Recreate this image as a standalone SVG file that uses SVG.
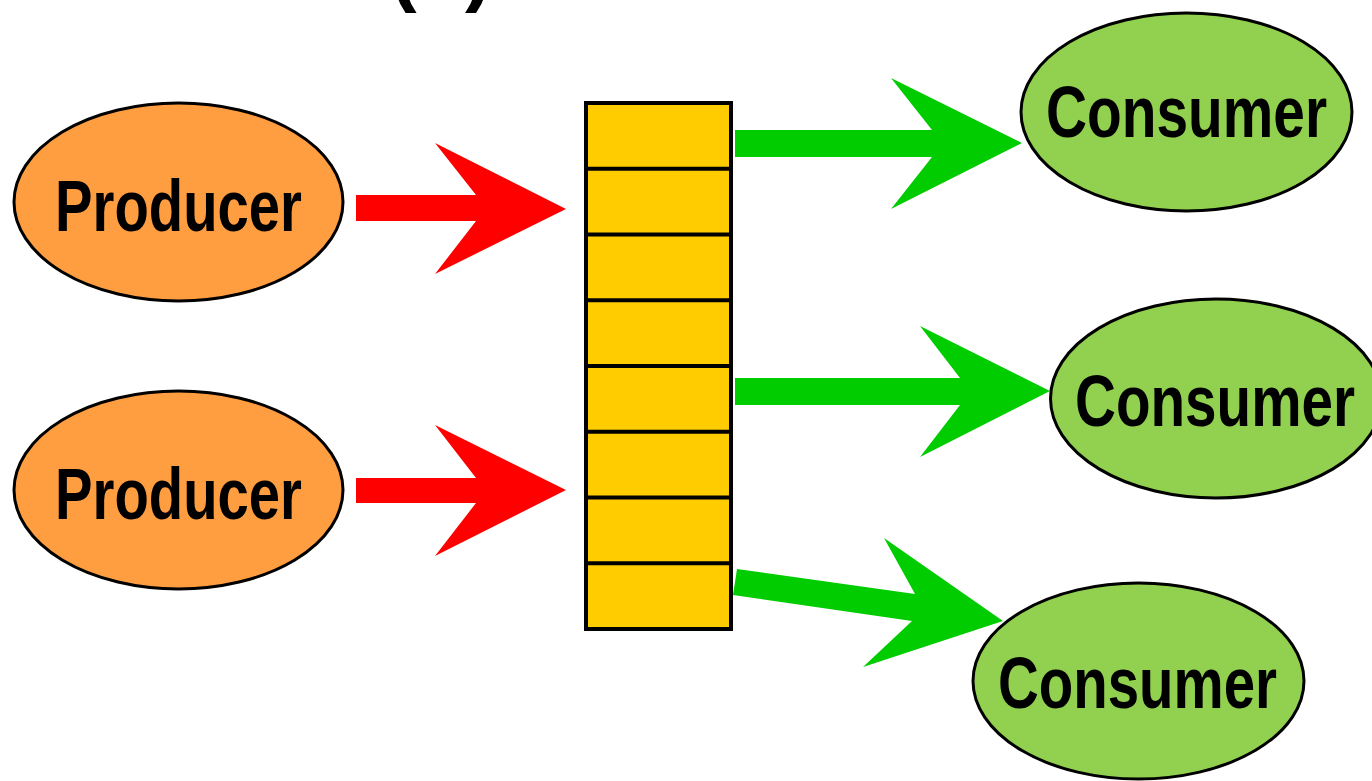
<svg xmlns="http://www.w3.org/2000/svg" width="1372" height="781" viewBox="0 0 1372 781">
  <style>
    .label { font-family: "Liberation Sans", Arial, sans-serif; font-weight: bold; font-size: 72px; fill: #000; text-anchor: middle; }
    .paren { font-family: "Liberation Sans", Arial, sans-serif; font-weight: bold; font-size: 80px; fill: #000; }
    .producer { fill: #FF9E40; stroke: #000; stroke-width: 3; }
    .consumer { fill: #92D050; stroke: #000; stroke-width: 3; }
    .slot { fill: #FFCC00; stroke: #000; stroke-width: 4; }
    .divider { stroke: #000; stroke-width: 4; }
    .put { fill: #FF0000; }
    .take { fill: #00CC00; }
  </style>
  <rect width="1372" height="781" fill="#FFFFFF"/>

  <!-- heading, mostly above the top edge -->
  <g id="heading">
    <text class="paren" x="390" y="-4">(</text>
    <text class="paren" x="465" y="-4">)</text>
  </g>

  <!-- arrows -->
  <g id="connectors">
    <polygon class="put" points="356,195 476,195 435,143 566,209 435,274 476,221 356,221"/>
    <polygon class="put" points="356,478 476,478 435,425 566,490 435,556 476,503 356,503"/>
    <polygon class="take" points="735,130 932,130 891,78 1022,143 891,209 932,157 735,157"/>
    <polygon class="take" points="735,378 960,378 920,326 1050,391 920,457 960,405 735,405"/>
    <polygon class="take" points="737,569 915,594 884,538 1003,621 863,667 912,621 733,595"/>
  </g>

  <g id="producer-1">
    <ellipse class="producer" cx="178.5" cy="202" rx="164.5" ry="99"/>
    <text class="label" x="178.5" y="231" textLength="247" lengthAdjust="spacingAndGlyphs">Producer</text>
  </g>
  <g id="producer-2">
    <ellipse class="producer" cx="178.5" cy="490" rx="164.5" ry="99"/>
    <text class="label" x="178.5" y="519" textLength="247" lengthAdjust="spacingAndGlyphs">Producer</text>
  </g>

  <!-- bounded buffer: eight slots -->
  <g id="queue">
    <rect class="slot" x="586" y="103" width="145" height="526"/>
    <line class="divider" x1="586" y1="168.75" x2="731" y2="168.75"/>
    <line class="divider" x1="586" y1="234.5" x2="731" y2="234.5"/>
    <line class="divider" x1="586" y1="300.25" x2="731" y2="300.25"/>
    <line class="divider" x1="586" y1="366" x2="731" y2="366"/>
    <line class="divider" x1="586" y1="431.75" x2="731" y2="431.75"/>
    <line class="divider" x1="586" y1="497.5" x2="731" y2="497.5"/>
    <line class="divider" x1="586" y1="563.25" x2="731" y2="563.25"/>
  </g>

  <g id="consumer-1">
    <ellipse class="consumer" cx="1186.5" cy="112" rx="165.5" ry="99"/>
    <text class="label" x="1186.5" y="137" textLength="281" lengthAdjust="spacingAndGlyphs">Consumer</text>
  </g>
  <g id="consumer-2">
    <ellipse class="consumer" cx="1216" cy="398.5" rx="165.5" ry="99.5"/>
    <text class="label" x="1215" y="426" textLength="280" lengthAdjust="spacingAndGlyphs">Consumer</text>
  </g>
  <g id="consumer-3">
    <ellipse class="consumer" cx="1138.5" cy="681" rx="165.5" ry="98"/>
    <text class="label" x="1137.5" y="708" textLength="279" lengthAdjust="spacingAndGlyphs">Consumer</text>
  </g>
</svg>
